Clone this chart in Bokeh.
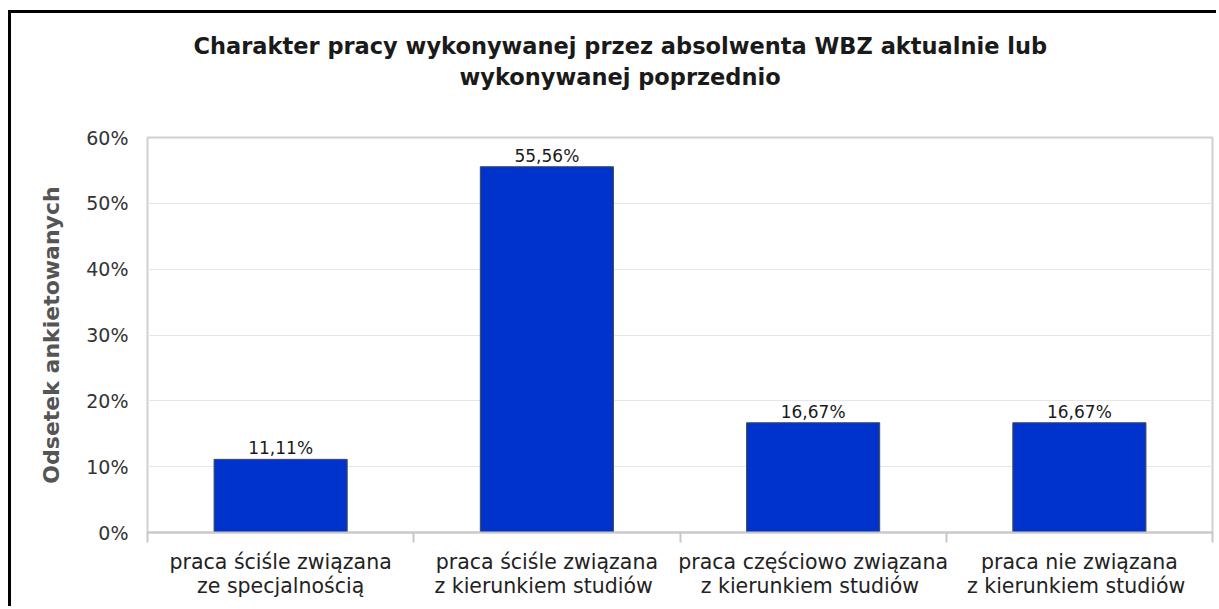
from bokeh.plotting import figure
from bokeh.models import Range1d, FixedTicker, Title, PrintfTickFormatter, ColumnDataSource
from bokeh.core.properties import value
from bokeh.embed import file_html
from bokeh.resources import INLINE

# ---- data ----
categories = [
    "praca ściśle związana\nze specjalnością",
    "praca ściśle związana\nz kierunkiem  studiów",
    "praca częściowo związana\nz kierunkiem  studiów",
    "praca nie związana\nz kierunkiem  studiów",
]
values = [11.11, 55.56, 16.67, 16.67]
y_ticks = [0, 10, 20, 30, 40, 50, 60]
title_lines = [
    "Charakter pracy wykonywanej przez absolwenta WBZ aktualnie lub",
    "wykonywanej poprzednio",
]
y_label = "Odsetek ankietowanych"

# ---- layout constants ----
TITLE_OFFSETS = [46, 312]      # px from frame left
TITLE_STANDOFFS = [2, 4]
SPACER_STANDOFF = 43
FONT = "DejaVu Sans"

n = len(categories)
centers = [i + 0.5 for i in range(n)]
value_text = [("%.2f" % v).replace(".", ",") + "%" for v in values]

src = ColumnDataSource(dict(x=centers, top=values, lbl=value_text))

p = figure(
    width=1208, height=596,
    x_range=Range1d(0, n), y_range=Range1d(0, 60),
    output_backend="svg", toolbar_location=None,
    min_border_left=136, min_border_top=124, min_border_right=7, min_border_bottom=77,
)
p.styles = {"border-left": "3px solid black", "border-top": "3px solid black",
            "margin-top": "10px", "margin-left": "8px"}
p.background_fill_color = "white"
p.border_fill_color = "white"
p.outline_line_color = "#d0d0d0"
p.outline_line_width = 2

p.vbar(x="x", top="top", width=0.5, bottom=0, source=src,
       fill_color="#0033cc", line_color="#4a4a4a", line_width=1)
p.text(x="x", y="top", text="lbl", source=src, text_align="center",
       text_baseline="alphabetic", y_offset=-11, text_font=value(FONT),
       text_font_size="17px", text_color="#1a1a1a")

# grid
p.xgrid.visible = False
p.ygrid.ticker = FixedTicker(ticks=y_ticks)
p.ygrid.grid_line_color = "#e6e6e6"
p.ygrid.grid_line_width = 1

# y axis
ya = p.yaxis[0]
ya.ticker = FixedTicker(ticks=y_ticks)
ya.formatter = PrintfTickFormatter(format="%d%%")
ya.axis_line_color = None
ya.major_tick_out = 0
ya.major_tick_in = 0
ya.minor_tick_out = 0
ya.minor_tick_in = 0
ya.major_label_standoff = 19
ya.major_label_text_font = FONT
ya.major_label_text_font_size = "19px"
ya.major_label_text_color = "#333333"
ya.axis_label = y_label
ya.axis_label_text_font = FONT
ya.axis_label_text_font_style = "bold"
ya.axis_label_text_font_size = "22px"
ya.axis_label_text_color = "#555555"
ya.axis_label_standoff = 19

# x axis: labels at category centres, tick marks at category boundaries
xa = p.xaxis[0]
xa.ticker = FixedTicker(ticks=centers, minor_ticks=list(range(n + 1)))
xa.major_label_overrides = {c: cat for c, cat in zip(centers, categories)}
xa.major_tick_out = 0
xa.major_tick_in = 0
xa.minor_tick_out = 10
xa.minor_tick_in = 0
xa.minor_tick_line_color = "#c8c8c8"
xa.minor_tick_line_width = 2
xa.axis_line_color = "#c8c8c8"
xa.axis_line_width = 2
xa.major_label_standoff = 7
xa.major_label_text_font = FONT
xa.major_label_text_font_size = "20.5px"
xa.major_label_text_line_height = 1.0
xa.major_label_text_color = "#222222"

# title: line 1 = figure title (outermost); added panels stack outward from the frame:
# first an empty spacer next to the frame, then line 2
def style_title(t, off, so):
    t.align = "left"
    t.offset = off
    t.standoff = so
    t.text_font = FONT
    t.text_font_style = "bold"
    t.text_font_size = "22.5px"
    t.text_color = "#1a1a1a"

p.title.text = title_lines[0]
style_title(p.title, TITLE_OFFSETS[0], TITLE_STANDOFFS[0])
spacer = Title(text=" ", text_font_size="1px", standoff=SPACER_STANDOFF)
p.add_layout(spacer, "above")
t2 = Title(text=title_lines[1])
style_title(t2, TITLE_OFFSETS[1], TITLE_STANDOFFS[1])
p.add_layout(t2, "above")

open("out.html", "w").write(file_html(p, INLINE))
